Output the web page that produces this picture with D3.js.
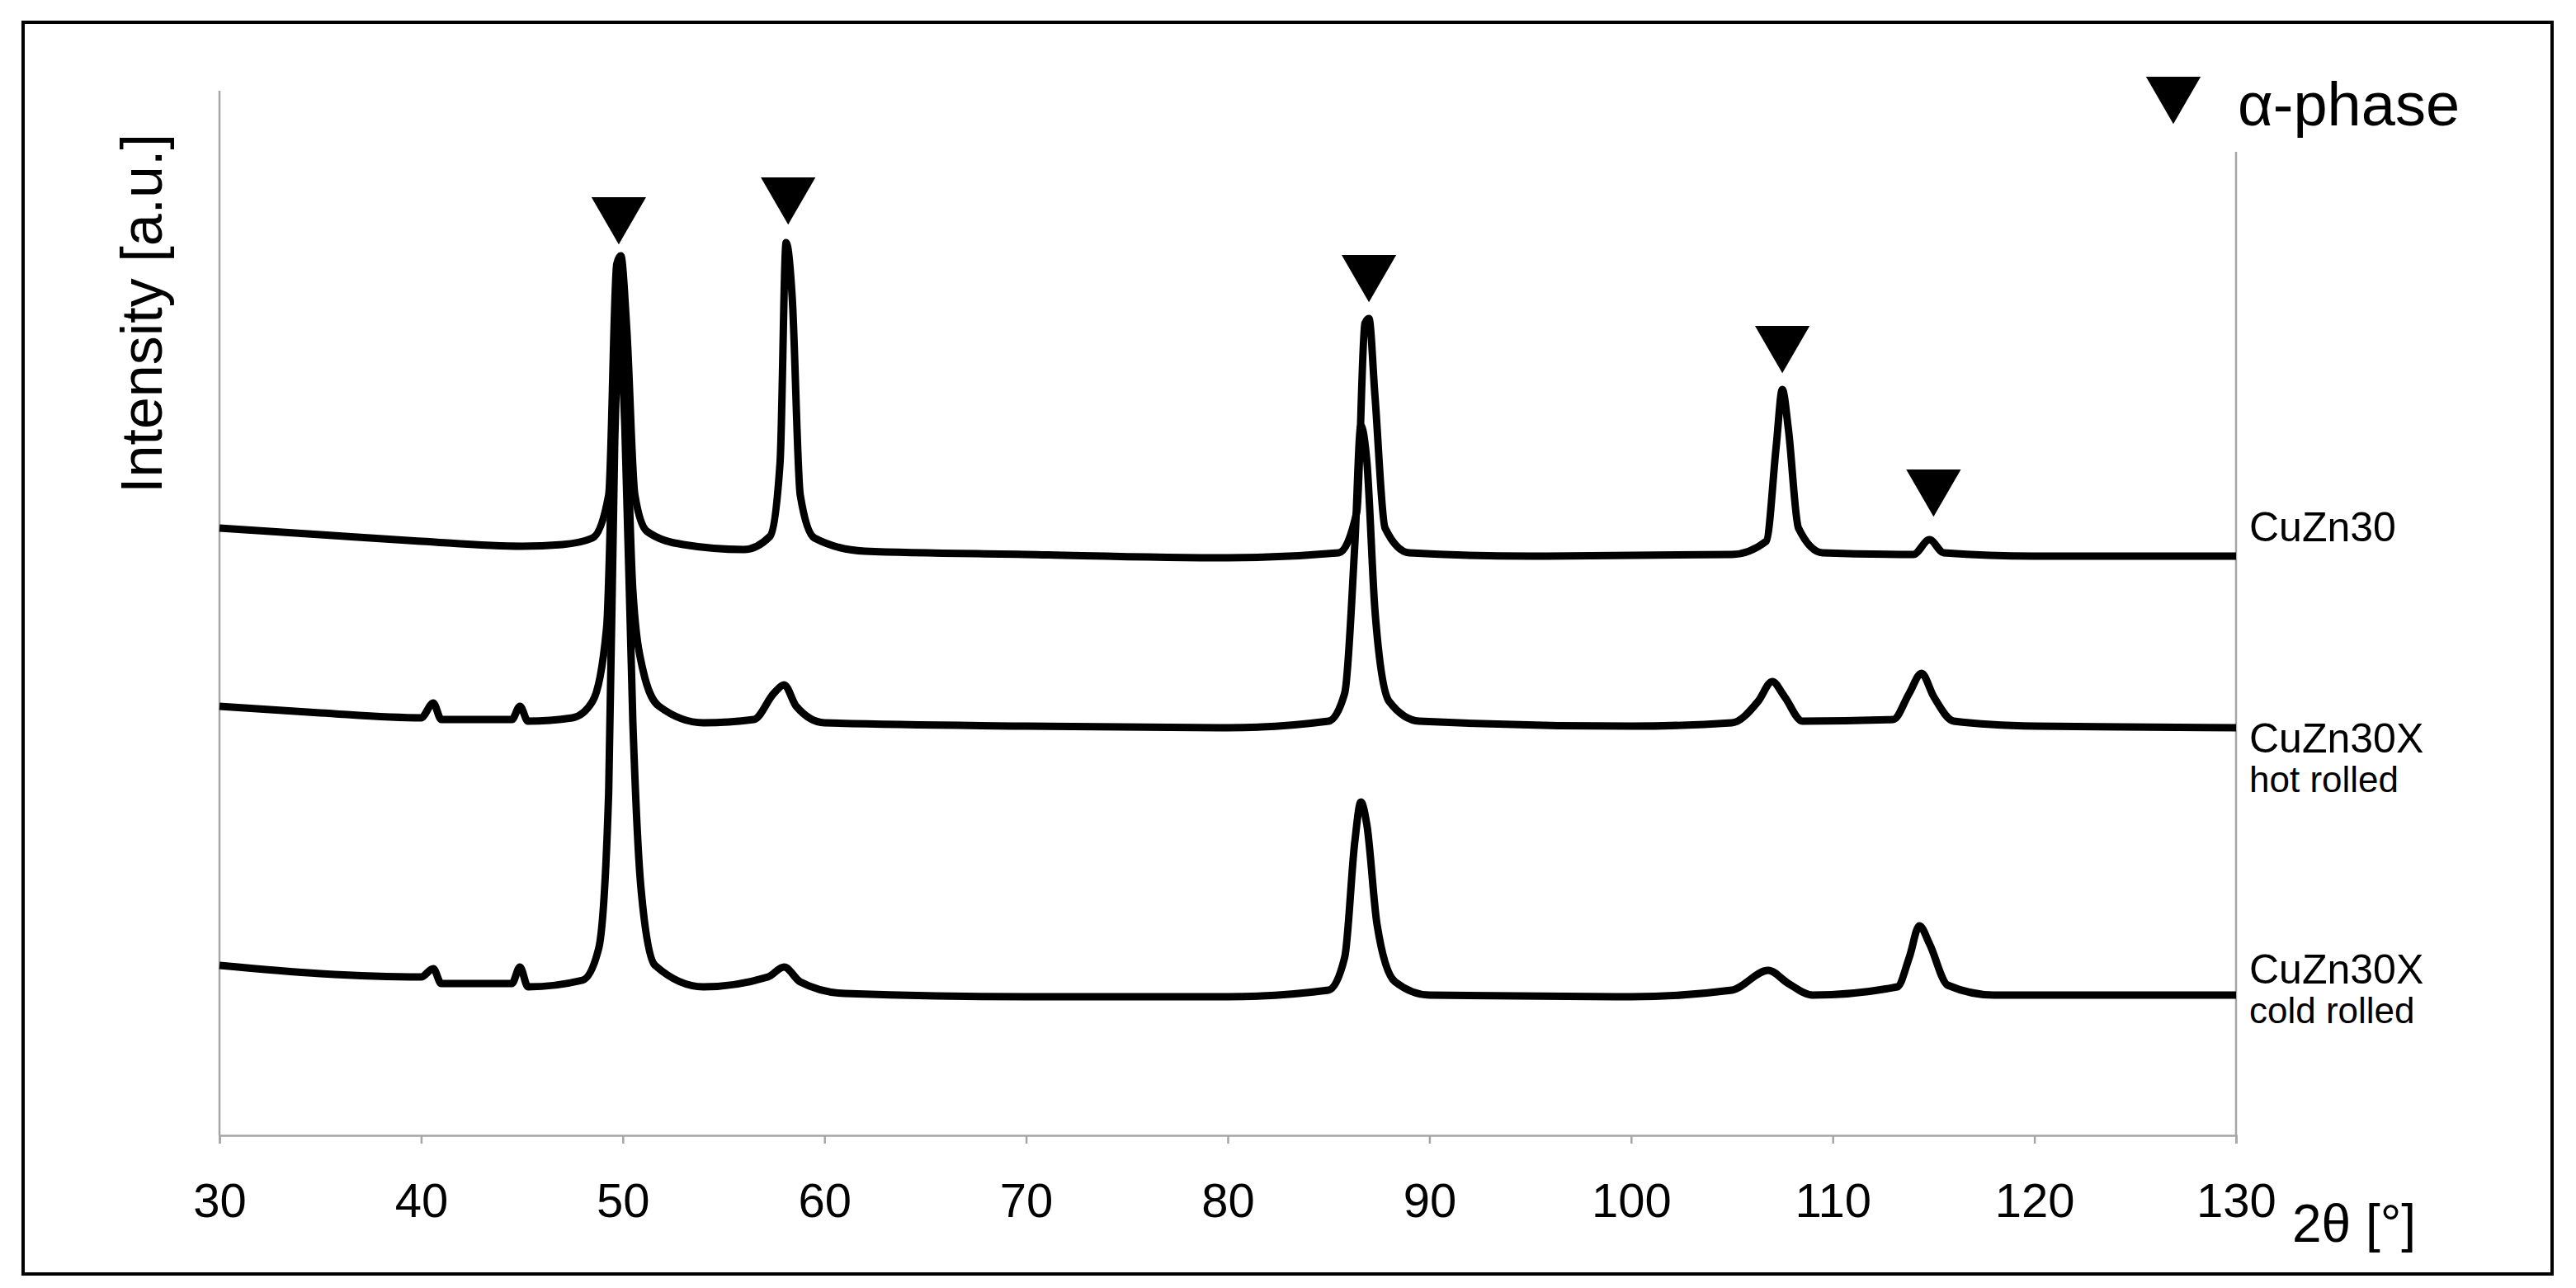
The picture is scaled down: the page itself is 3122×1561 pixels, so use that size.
<!DOCTYPE html>
<html>
<head>
<meta charset="utf-8">
<script src="https://cdn.jsdelivr.net/npm/d3@7"></script>
<style>
  body { margin: 0; background: #fff; }
  text { font-family: "Liberation Sans Narrow", "Liberation Sans", Arial, sans-serif; }
</style>
</head>
<body>
<svg id="chart" width="3122" height="1561"></svg>
<script>
// 2θ (deg) / intensity (a.u., offset per pattern)
var cuzn30 = [
  [30,368],[35,364],[40,360],[45,357],[47,358],[48.5,362],[49.3,388],[49.7,528],[49.9,533],[50.2,488],
  [50.6,388],[51.2,366],[53,358],[56,355],[57.3,363],[57.8,408],[58.1,541],[58.4,508],[58.8,388],
  [59.5,362],[62,354],[70,352],[80,350],[85.5,353],[86.4,378],[86.8,492],[87.0,495],[87.3,448],
  [87.8,368],[89,353],[95,351],[105,352],[106.7,360],[107.2,418],[107.5,452],[107.8,428],[108.3,368],
  [109.5,353],[114,352],[114.8,361],[115.5,353],[120,351],[130,351]
];
var hotRolled = [
  [30,260],[35,256],[40,253],[40.6,262],[41,252],[44.5,252],[44.9,260],[45.3,251],[47.5,253],[48.5,263],
  [49.2,308],[49.6,470],[49.85,523],[50.1,470],[50.5,330],[51,282],[51.8,260],[54,250],[56.5,252],
  [57.5,268],[58,273],[58.6,260],[60,250],[70,248],[80,247],[85,251],[85.8,268],[86.3,358],[86.6,430],
  [86.9,408],[87.3,318],[88,263],[89.5,251],[100,248],[105,250],[106.3,263],[107,275],[107.6,266],
  [108.5,251],[113,252],[113.8,268],[114.4,280],[115,266],[116,251],[120,248],[130,247]
];
var coldRolled = [
  [30,103],[35,98],[40,96],[40.6,101],[41,92],[44.5,92],[44.9,102],[45.3,90],[48,94],[48.8,113],
  [49.3,208],[49.6,420],[49.85,488],[50.1,430],[50.5,250],[50.9,150],[51.6,103],[54,90],[57.2,96],
  [58,102],[58.8,93],[61,86],[70,84],[80,84],[85,88],[85.8,108],[86.3,178],[86.6,202],[86.9,188],
  [87.4,128],[88.3,93],[90,85],[100,84],[105,88],[106.8,100],[107.8,92],[109,85],[113.2,90],
  [113.8,108],[114.3,127],[114.8,116],[115.7,91],[118,85],[130,85]
];
// α-phase reflections: 2θ and level of the marker tip
var alphaPeaks = [49.8, 58.2, 87.0, 107.5, 115.0];
var alphaTips = [548, 560, 513, 470, 383];
var xTicks = [30, 40, 50, 60, 70, 80, 90, 100, 110, 120, 130];
var seriesLabels = [
  { lines: ["CuZn30"], level: 360 },
  { lines: ["CuZn30X", "hot rolled"], level: 232 },
  { lines: ["CuZn30X", "cold rolled"], level: 92 }
];

var svg = d3.select("#chart");
var x = d3.scaleLinear().domain([30, 130]).range([266, 2710]);
var y = d3.scaleLinear().domain([0, 633]).range([1376, 110]);

// outer frame
svg.append("rect").attr("x", 28).attr("y", 27).attr("width", 3065).attr("height", 1517)
  .attr("fill", "none").attr("stroke", "#000").attr("stroke-width", 4);

// axes
var axisCol = "#a6a6a6";
svg.append("line").attr("x1", 266).attr("x2", 266).attr("y1", 110).attr("y2", 1376)
  .attr("stroke", axisCol).attr("stroke-width", 2.5);
svg.append("line").attr("x1", 2710).attr("x2", 2710).attr("y1", 184).attr("y2", 1376)
  .attr("stroke", axisCol).attr("stroke-width", 2.5);
var xAxis = svg.append("g").attr("transform", "translate(0,1376)")
  .call(d3.axisBottom(x).tickValues(xTicks).tickSize(10).tickPadding(48));
xAxis.select(".domain").attr("stroke", axisCol).attr("stroke-width", 2.5);
xAxis.selectAll(".tick line").attr("stroke", axisCol).attr("stroke-width", 2.5);
xAxis.selectAll(".tick text").attr("font-size", 58).attr("fill", "#000")
  .style("font-family", "'Liberation Sans Narrow', Arial, sans-serif");

svg.append("text").attr("x", 2778).attr("y", 1505).attr("font-size", 64).text("2θ [°]");
svg.append("text").attr("transform", "translate(196,380) rotate(-90)")
  .attr("text-anchor", "middle").attr("font-size", 70)
  .style("font-family", "'Liberation Sans', Arial, sans-serif").text("Intensity [a.u.]");

// patterns
var line = d3.line().x(d => x(d[0])).y(d => y(d[1])).curve(d3.curveMonotoneX);
[cuzn30, hotRolled, coldRolled].forEach(function (s) {
  svg.append("path").datum(s).attr("d", line).attr("fill", "none")
    .attr("stroke", "#000").attr("stroke-width", 9).attr("stroke-linejoin", "round");
});

// α-phase markers
var tri = d3.symbol().type(d3.symbolTriangle).size(1900);
alphaPeaks.forEach(function (p, i) {
  svg.append("path").attr("d", tri)
    .attr("transform", "translate(" + x(p) + "," + (y(alphaTips[i]) - 22) + ") rotate(180)")
    .attr("fill", "#000");
});
svg.append("path").attr("d", tri).attr("transform", "translate(2634,112) rotate(180)").attr("fill", "#000");
svg.append("text").attr("x", 2712).attr("y", 152).attr("font-size", 74)
  .style("font-family", "'Liberation Sans', Arial, sans-serif").text("α-phase");

// series labels
seriesLabels.forEach(function (l) {
  var t = svg.append("text").attr("x", 2726).attr("y", y(l.level));
  l.lines.forEach(function (s, i) {
    t.append("tspan").attr("x", 2726).attr("dy", i === 0 ? 0 : 48)
      .attr("font-size", i === 0 ? 50 : 44).text(s);
  });
});
</script>
</body>
</html>
